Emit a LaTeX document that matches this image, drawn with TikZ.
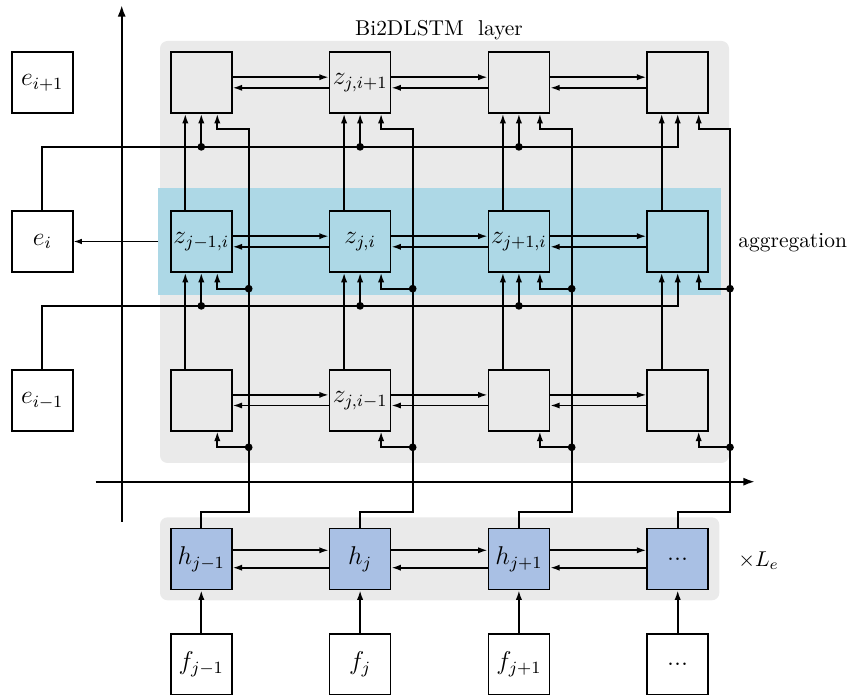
\documentclass[tikz,border=0pt]{standalone}
\usetikzlibrary{arrows.meta,calc}
\definecolor{panelgray}{RGB}{234,234,234}
\definecolor{aggblue}{RGB}{173,216,230}
\definecolor{hblue}{RGB}{169,192,228}

\begin{document}
\begin{tikzpicture}[
  x=0.016393cm, y=-0.016393cm,
  cell/.style={draw, line width=0.8pt, minimum size=1cm, inner sep=0pt, font=\large},
  hcell/.style={cell, fill=hblue},
  wcell/.style={cell, fill=white},
  conn/.style={line width=0.75pt},
  arr/.style={conn, -{Latex[length=4.4pt,width=2.9pt]}},
  thinarr/.style={line width=0.55pt, -{Latex[length=3.8pt,width=2.6pt]}},
  eline/.style={line width=1pt},
  axis/.style={line width=1pt, -{Latex[length=5.4pt,width=3.8pt]}},
  dot/.style={circle, fill, inner sep=0pt, minimum size=3.6pt},
  caption/.style={inner sep=0pt}
]
\useasboundingbox (0,0) rectangle (853,695);

% panels
\fill[panelgray, rounded corners=3.5pt] (160,41) rectangle (729,463);
\fill[panelgray, rounded corners=3.5pt] (160,517.3) rectangle (719.3,600.3);
\fill[aggblue] (158.3,188.3) rectangle (720.7,295);

% axes
\coordinate (xaxS) at (95.7,481.7);
\coordinate (xaxE) at (755,481.7);
\coordinate (yaxS) at (121.7,522);
\coordinate (yaxE) at (121.7,5);
\draw[axis] (xaxS) -- (xaxE);
\draw[axis] (yaxS) -- (yaxE);

% labels
\node[caption, anchor=base] (title) at (439,36) {Bi2DLSTM\ \ layer};
\node[caption, anchor=base west] (aggtext) at (738,247.3) {aggregation};
\node[caption, anchor=base west] (reps) at (738,566.5) {$\times L_e$};

% grid cells
\node[cell] (zA1) at (201.3,82.5) {};
\node[cell] (zA2) at (360.1,82.5) {$z_{j,i+1}$};
\node[cell] (zA3) at (518.9,82.5) {};
\node[cell] (zA4) at (677.7,82.5) {};
\node[cell] (zB1) at (201.3,241.5) {$z_{j-1,i}$};
\node[cell] (zB2) at (360.1,241.5) {$z_{j,i}$};
\node[cell] (zB3) at (518.9,241.5) {$z_{j+1,i}$};
\node[cell] (zB4) at (677.7,241.5) {};
\node[cell] (zC1) at (201.3,400.2) {};
\node[cell] (zC2) at (360.1,400.2) {$z_{j,i-1}$};
\node[cell] (zC3) at (518.9,400.2) {};
\node[cell] (zC4) at (677.7,400.2) {};

% encoder cells and inputs
\node[hcell] (h1) at (201.3,559) {$h_{j-1}$};
\node[hcell] (h2) at (360.1,559) {$h_j$};
\node[hcell] (h3) at (518.9,559) {$h_{j+1}$};
\node[hcell] (h4) at (677.7,559) {...};
\node[wcell] (f1) at (201.3,664.3) {$f_{j-1}$};
\node[wcell] (f2) at (360.1,664.3) {$f_j$};
\node[wcell] (f3) at (518.9,664.3) {$f_{j+1}$};
\node[wcell] (f4) at (677.7,664.3) {...};

% row embeddings
\node[wcell] (ep) at (42.3,82.5) {$e_{i+1}$};
\node[wcell] (e0) at (42.3,241.5) {$e_i$};
\node[wcell] (em) at (42.3,400.5) {$e_{i-1}$};

% horizontal recurrences
\foreach \r in {A,B,C}{
  \foreach \k/\n in {1/2,2/3,3/4}{
    \draw[arr] ($(z\r\k.east)+(0,-5.3)$) -- ($(z\r\n.west)+(0,-5.3)$);
    \draw[arr] ($(z\r\n.west)+(0,5.3)$) -- ($(z\r\k.east)+(0,5.3)$);
  }
}
\foreach \k/\n in {1/2,2/3,3/4}{
  \draw[arr] ($(h\k.east)+(0,-8.7)$) -- ($(h\n.west)+(0,-8.7)$);
  \draw[arr] ($(h\n.west)+(0,8.7)$) -- ($(h\k.east)+(0,8.7)$);
}

% vertical recurrences and inputs
\foreach \k in {1,2,3,4}{
  \draw[arr] ($(zC\k.north)+(-16,0)$) -- ($(zB\k.south)+(-16,0)$);
  \draw[arr] ($(zB\k.north)+(-16,0)$) -- ($(zA\k.south)+(-16,0)$);
  \draw[arr] (f\k.north) -- (h\k.south);
  \coordinate (rA\k) at ($(zA\k.south)+(0,33)$);
  \coordinate (rB\k) at ($(zB\k.south)+(0,33)$);
}

% encoder states fed to every row of the grid
\foreach \k/\v/\o in {1/248.7/16, 2/412.7/21, 3/571.7/21, 4/730/21}{
  \coordinate (tH\k) at (\v,512);
  \coordinate (tA\k) at (\v,129.3);
  \coordinate (tB\k) at (\v,288.7);
  \coordinate (tC\k) at (\v,447.3);
  \draw[arr] (h\k.north) |- (tH\k) -- (tA\k) -| ($(zA\k.south)+(\o,0)$);
  \draw[arr] (tB\k) -| ($(zB\k.south)+(\o,0)$);
  \draw[arr] (tC\k) -| ($(zC\k.south)+(\o,0)$);
  \node[dot] at (tB\k) {};
  \node[dot] at (tC\k) {};
}

% row embeddings fed into the next row
\draw[eline] (e0.north) |- (rA3);
\draw[arr] (rA3) -| (zA4.south);
\draw[eline] (em.north) |- (rB3);
\draw[arr] (rB3) -| (zB4.south);
\foreach \k in {1,2,3}{
  \draw[arr] (rA\k) -- (zA\k.south);
  \draw[arr] (rB\k) -- (zB\k.south);
  \node[dot] at (rA\k) {};
  \node[dot] at (rB\k) {};
}

% aggregation of the row
\coordinate (aggW) at (158.3,241.5);
\draw[thinarr] (aggW) -- (e0.east);
\end{tikzpicture}
\end{document}
